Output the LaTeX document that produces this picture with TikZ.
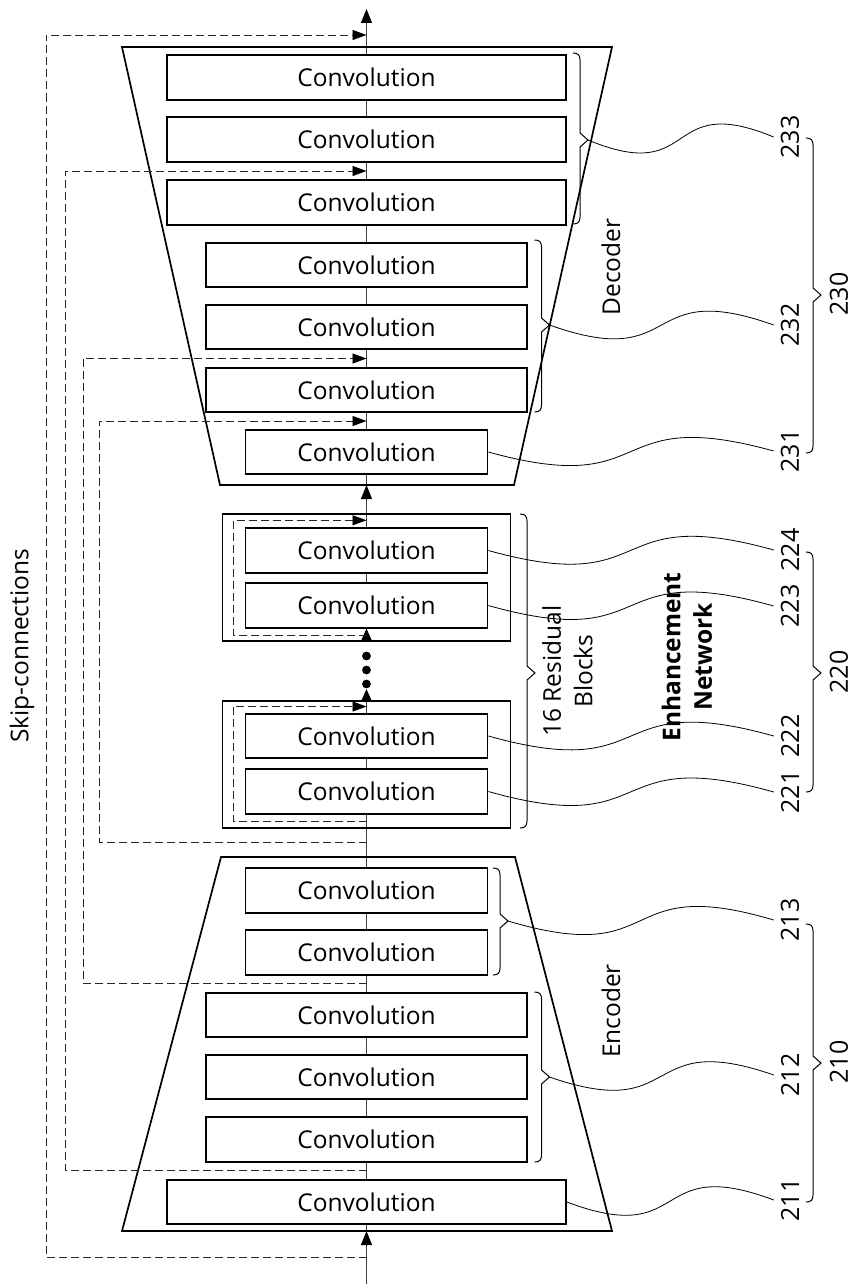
\documentclass[tikz,border=0pt]{standalone}
\usepackage{fontspec}
\setmainfont{Open Sans}
\usetikzlibrary{arrows.meta,calc}

\pgfdeclarelayer{under}
\pgfsetlayers{under,main}

% right-pointing curly brace: tip name, x of spine, top y, bottom y, tip y
\newcommand{\curlybrace}[5]{%
  \draw[brace] ({#2-7},#3) .. controls ({#2-2},#3) and (#2,{#3+2}) .. (#2,{#3+7})
    -- (#2,{#5-7}) -- ({#2+8},#5) coordinate (#1) -- (#2,{#5+7}) -- (#2,{#4-7})
    .. controls (#2,{#4-2}) and ({#2-2},#4) .. ({#2-7},#4);}

% wavy reference line from a part to its number
\newcommand{\leadercurve}[2]{%
  \draw[leader] (#1) .. controls ($(#1)!0.6!(#2)+(0,48)$) and ($(#1)!0.4!(#2)+(0,-48)$) .. (#2);}

\begin{document}
\begin{tikzpicture}[x=1pt,y=-1pt,
  txt/.style={font=\fontsize{24.5}{31.5}\selectfont, inner sep=0pt},
  conv/.style={draw, line width=1.7pt, fill=white, minimum height=44.5pt, inner sep=0pt, txt},
  wide/.style={conv, minimum width=399pt},
  midw/.style={conv, minimum width=321pt},
  narrow/.style={conv, minimum width=242pt},
  resblk/.style={draw, line width=1.7pt, minimum width=288pt, minimum height=127pt, inner sep=0pt},
  frame/.style={draw, line width=1.7pt, line join=miter},
  axis/.style={draw=black!75, line width=0.9pt},
  flow/.style={axis, -{Triangle[length=14pt,width=11pt,color=black]}},
  shortflow/.style={axis, -{Triangle[length=12pt,width=10.5pt,color=black]}},
  skip/.style={draw=black!85, line width=0.9pt, dash pattern=on 8pt off 4pt,
    -{Triangle[length=14pt,width=10pt,color=black]}},
  leader/.style={draw, line width=0.8pt},
  brace/.style={draw, line width=1pt},
  num/.style={font=\fontsize{25}{30}\selectfont, rotate=90, inner xsep=0pt, inner ysep=7pt},
]
\begin{pgfonlayer}{under}
  \fill[white] (0,0) rectangle (853,1284);
\end{pgfonlayer}
\useasboundingbox (0,0) rectangle (853,1284);

% decoder and encoder outlines
\draw[frame] (122,47) -- (612,47) -- (514,485) -- (220,485) -- cycle;
\draw[frame] (221,857) -- (515,857) -- (612,1231) -- (122,1231) -- cycle;

% points on the main data path
\coordinate (in)   at (366.5,1284);
\coordinate (encB) at (366.5,1231);
\coordinate (encT) at (366.5,857);
\coordinate (decB) at (366.5,485);
\coordinate (decT) at (366.5,47);
\coordinate (out)  at (366.5,9);
\coordinate (s1a)  at (366.5,1257);
\coordinate (s1b)  at (366.5,35);

% decoder layers
\node[wide]   (d1) at (366.5,77.5)  {Convolution};
\node[wide]   (d2) at (366.5,139.5) {Convolution};
\node[wide]   (d3) at (366.5,202.5) {Convolution};
\node[midw]   (d4) at (366.5,265)   {Convolution};
\node[midw]   (d5) at (366.5,327)   {Convolution};
\node[midw]   (d6) at (366.5,390)   {Convolution};
\node[narrow] (d7) at (366.5,452)   {Convolution};

% residual blocks
\node[resblk] (rb2) at (366.5,577.5) {};
\node[narrow] (r4) at (366.5,550.5) {Convolution};
\node[narrow] (r3) at (366.5,605.5) {Convolution};
\node[resblk] (rb1) at (366.5,764.5) {};
\node[narrow] (r2) at (366.5,736)   {Convolution};
\node[narrow] (r1) at (366.5,791.5) {Convolution};

% encoder layers
\node[narrow] (e6) at (366.5,890.5)  {Convolution};
\node[narrow] (e5) at (366.5,952.5)  {Convolution};
\node[midw]   (e4) at (366.5,1015)   {Convolution};
\node[midw]   (e3) at (366.5,1077)   {Convolution};
\node[midw]   (e2) at (366.5,1139.5) {Convolution};
\node[wide]   (e1) at (366.5,1202)   {Convolution};

% main data path, behind the layer boxes
\begin{pgfonlayer}{under}
  \draw[flow] (in) -- (encB);
  \draw[axis] (encB) -- (encT) -- (rb1.north);
  \draw[shortflow] (rb1.north) -- ++(0,-11);
  \draw[shortflow] (rb2.south) -- (r3.south);
  \draw[axis] (r3.south) -- (rb2.north);
  \draw[flow] (rb2.north) -- (decB);
  \draw[axis] (decB) -- (decT);
  \draw[flow] (decT) -- (out);
\end{pgfonlayer}

% remaining residual blocks
\foreach \yy in {656,670,684} \fill (366.5,\yy) circle (4.4pt);

% residual shortcuts
\draw[skip] ($(r1.south)!0.5!(rb1.south)$) -- ++(-133.5,0) |- ($(r2.north)!0.5!(rb1.north)$);
\draw[skip] ($(r3.south)!0.5!(rb2.south)$) -- ++(-133.5,0) |- ($(r4.north)!0.5!(rb2.north)$);

% skip connections from encoder to decoder
\draw[skip] (s1a) -- ++(-320.5,0) |- (s1b);
\draw[skip] ($(e1.north)!0.5!(e2.south)$) -- ++(-301.5,0) |- ($(d2.south)!0.5!(d3.north)$);
\draw[skip] ($(e5.south)!0.5!(e4.north)$) -- ++(-283.5,0) |- ($(d5.south)!0.5!(d6.north)$);
\draw[skip] ($(rb1.south)!0.5!(encT)$) -- ++(-267.5,0) |- ($(d6.south)!0.5!(d7.north)$);

% braces
\curlybrace{t233}{580}{53}{224}{140}
\curlybrace{t232}{541.5}{240}{412}{325}
\curlybrace{trb}{527}{514}{828}{673}
\curlybrace{t213}{500}{868}{975}{921}
\curlybrace{t212}{541.5}{992}{1162}{1077}
\curlybrace{t230}{813}{138}{453}{295}
\curlybrace{t220}{813}{552}{792}{673}
\curlybrace{t210}{813}{924}{1202}{1063}

% reference numbers
\node[num] (l233) at (790,137)  {233};
\node[num] (l232) at (790,325)  {232};
\node[num] (l231) at (790,451)  {231};
\node[num] (l224) at (790,550)  {224};
\node[num] (l223) at (790,606)  {223};
\node[num] (l222) at (790,736)  {222};
\node[num] (l221) at (790,792)  {221};
\node[num] (l213) at (790,920)  {213};
\node[num] (l212) at (790,1075) {212};
\node[num] (l211) at (790,1200) {211};
\node[num] (l230) at (839,294)  {230};
\node[num] (l220) at (839,672)  {220};
\node[num] (l210) at (839,1062) {210};

% reference lines
\leadercurve{t233}{l233.north}
\leadercurve{t232}{l232.north}
\leadercurve{d7.east}{l231.north}
\leadercurve{r4.east}{l224.north}
\leadercurve{r3.east}{l223.north}
\leadercurve{r2.east}{l222.north}
\leadercurve{r1.east}{l221.north}
\leadercurve{t213}{l213.north}
\leadercurve{t212}{l212.north}
\leadercurve{e1.east}{l211.north}

% captions
\node[txt, rotate=90] (decl) at (611,267)  {Decoder};
\node[txt, rotate=90] (encl) at (611,1011) {Encoder};
\node[txt, rotate=90, align=center] (rbl) at (567.5,671) {16 Residual\\Blocks};
\node[txt, rotate=90, align=center, font=\fontsize{24.5}{31.5}\selectfont\bfseries] (enl) at (687,657) {Enhancement\\Network};
\node[txt, rotate=90] (skl) at (22,646) {Skip-connections};
\end{tikzpicture}
\end{document}
